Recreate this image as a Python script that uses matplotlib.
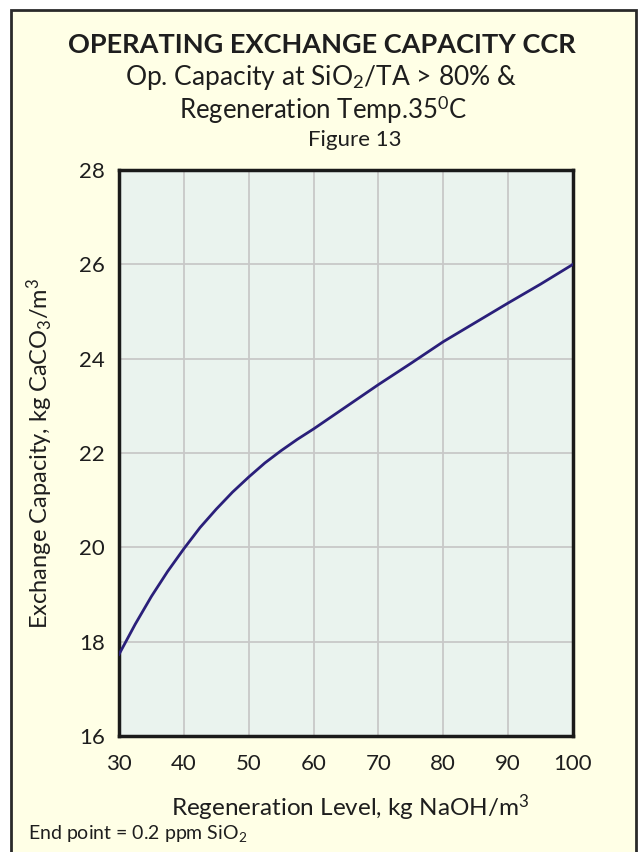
"""Operating exchange capacity CCR, Figure 13 (recreation)."""
import matplotlib
import matplotlib.pyplot as plt
from matplotlib.patches import Rectangle

matplotlib.use("Agg")

plt.rcParams["font.family"] = ["Lato", "DejaVu Sans"]
plt.rcParams["mathtext.fontset"] = "custom"
plt.rcParams["mathtext.rm"] = "Lato"
plt.rcParams["mathtext.it"] = "Lato:italic"
plt.rcParams["mathtext.bf"] = "Lato:bold"

# ---------------------------------------------------------------------------
# Data
# ---------------------------------------------------------------------------
regen_level = [30, 32.5, 35, 37.5, 40, 42.5, 45, 47.5, 50, 52.5, 55, 57.5,
               60, 65, 70, 75, 80, 85, 90, 95, 100]
capacity = [17.73, 18.37, 18.96, 19.49, 19.97, 20.42, 20.81, 21.17, 21.49, 21.79, 22.05, 22.29,
            22.51, 22.98, 23.45, 23.9, 24.36, 24.77, 25.18, 25.58, 26.0]

x_ticks = [30, 40, 50, 60, 70, 80, 90, 100]
y_ticks = [16, 18, 20, 22, 24, 26, 28]

BG = "#FFFFE6"
FACE = "#EAF3EE"
LINE = "#2A1F7A"
TEXT = "#1E1E1E"

fig = plt.figure(figsize=(6.43, 8.52), dpi=100)
fig.patch.set_facecolor("white")

# cream panel with dark frame, kept behind the axes
frame = Rectangle((11 / 643, -0.01), 625 / 643, 1 - 10 / 852 + 0.01,
                  transform=fig.transFigure, facecolor=BG, edgecolor="#2A2A2A",
                  linewidth=2.0, zorder=-5)
fig.patches.append(frame)

ax = fig.add_axes([119 / 643, 1 - 736 / 852, 454 / 643, 566 / 852])
ax.set_facecolor(FACE)
ax.plot(regen_level, capacity, color=LINE, linewidth=2.0, zorder=3)

ax.set_xlim(30, 100)
ax.set_ylim(16, 28)
ax.set_xticks(x_ticks)
ax.set_yticks(y_ticks)
ax.tick_params(length=0, labelsize=16, colors=TEXT)
ax.tick_params(axis="x", pad=13)
ax.tick_params(axis="y", pad=10)
ax.grid(True, color="#C8C8C8", linewidth=1.3)
ax.set_axisbelow(True)
for sp in ax.spines.values():
    sp.set_linewidth(2.5)
    sp.set_color("#1A1A1A")

ax.set_xlabel("Regeneration Level, kg NaOH/m$^3$", fontsize=17.5, color=TEXT)
ax.xaxis.set_label_coords(0.51, -0.10)
ax.set_ylabel("Exchange Capacity, kg CaCO$_3$/m$^3$", fontsize=17, color=TEXT)
ax.yaxis.set_label_coords(-0.14, 0.5)

fig.text(0.5, 1 - 45 / 852, "OPERATING EXCHANGE CAPACITY CCR", ha="center", va="center",
         fontsize=19.5, fontweight="bold", color=TEXT)
fig.text(0.5, 1 - 78 / 852, "Op. Capacity at SiO$_2$/TA > 80% &", ha="center", va="center",
         fontsize=19, color=TEXT)
fig.text(0.503, 1 - 110 / 852, "Regeneration Temp.35$^0$C", ha="center", va="center",
         fontsize=18.5, color=TEXT)
fig.text(355 / 643, 1 - 140 / 852, "Figure 13", ha="center", va="center",
         fontsize=16, color=TEXT)
fig.text(28 / 643, 1 - 833 / 852, "End point = 0.2 ppm SiO$_2$", ha="left", va="center",
         fontsize=14, color=TEXT)

fig.savefig("out.png", dpi=100, facecolor=fig.get_facecolor())
plt.close("all")
